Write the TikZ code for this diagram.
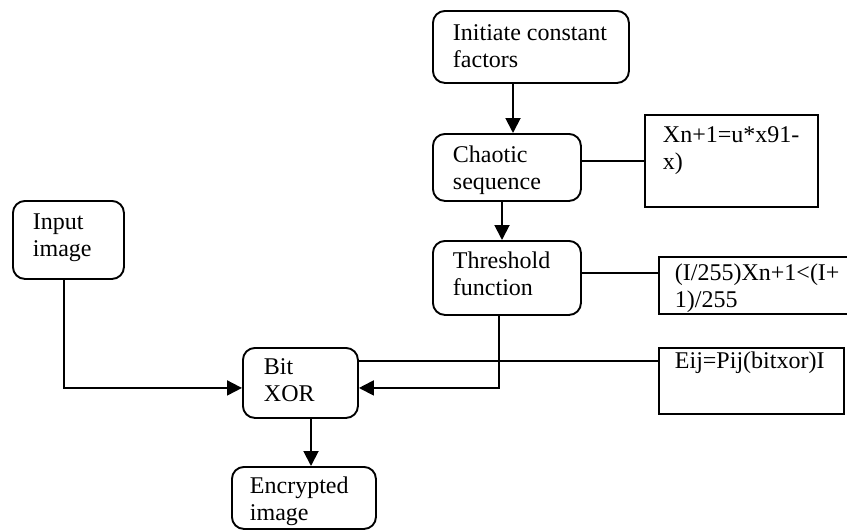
\documentclass[tikz,border=0pt]{standalone}
\usepackage{fontspec}
\setmainfont{Liberation Serif}
\usetikzlibrary{arrows.meta}

\begin{document}
\begin{tikzpicture}[x=1pt, y=-1pt, line width=1.9pt, >={Triangle[length=15pt,width=15pt]},
  rbox/.style={draw, rounded corners=12pt, anchor=north west, inner sep=0pt},
  sbox/.style={draw, anchor=north west, inner sep=0pt},
  txt/.style={anchor=north west, inner sep=0pt, align=left, font=\fontsize{24}{27}\selectfont}]
\useasboundingbox (0,0) rectangle (847,530);
% boxes
\node[rbox, minimum width=196pt, minimum height=72pt] (init) at (432,10) {};
\node[rbox, minimum width=148pt, minimum height=67pt] (chaos) at (432,133) {};
\node[sbox, minimum width=173pt, minimum height=92pt] (logis) at (644,114) {};
\node[rbox, minimum width=148pt, minimum height=74pt] (thres) at (432,240) {};
\node[sbox, minimum width=212pt, minimum height=57pt] (cond) at (658,256) {};
\node[rbox, minimum width=111pt, minimum height=78pt] (input) at (12,200) {};
\node[rbox, minimum width=115pt, minimum height=70pt] (xor) at (242,347) {};
\node[sbox, minimum width=185pt, minimum height=66pt] (eij) at (658,347) {};
\node[rbox, minimum width=144pt, minimum height=62pt] (enc) at (231,466) {};
% texts
\node[txt] (tinit) at (452,21.1) {\strut Initiate constant\\factors};
\node[txt] (tchaos) at (452,143.1) {\strut Chaotic\\sequence};
\node[txt] (tlogis) at (662,123.1) {\strut Xn+1=u*x91-\\x)};
\node[txt] (tthres) at (452,249.1) {\strut Threshold\\function};
\node[txt] (tcond) at (674,261.1) {\strut (I/255)Xn+1<(I+\\1)/255};
\node[txt] (teij) at (674,349.1) {\strut Eij=Pij(bitxor)I};
\node[txt] (tinput) at (32,210.1) {\strut Input\\image};
\node[txt] (txor) at (263,355.1) {\strut Bit\\XOR};
\node[txt] (tenc) at (249,474.1) {\strut Encrypted\\image};
% connectors
\draw[->] ([xshift=81pt]init.south west) -- ([xshift=81pt]chaos.north west);
\draw (logis.west -| chaos.east) -- (logis.west);
\draw[->] ([xshift=70pt]chaos.south west) -- ([xshift=70pt]thres.north west);
\draw ([yshift=-17pt]cond.north west -| thres.east) -- ([yshift=-17pt]cond.north west);
\draw[->] ([xshift=67pt]thres.south west) |- ([yshift=-5pt]xor.east);
\draw ([yshift=-14pt]xor.north east) -- ([yshift=-14pt]eij.north west);
\draw[->] ([xshift=52pt]input.south west) |- ([yshift=-5pt]xor.west);
\draw[->] ([xshift=69pt]xor.south west) -- ([xshift=80pt]enc.north west);
\end{tikzpicture}
\end{document}
